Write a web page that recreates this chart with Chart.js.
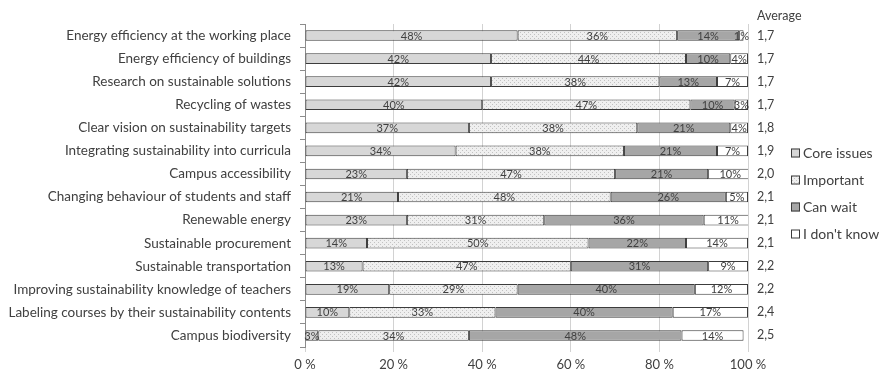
<!DOCTYPE html>
<html>
<head>
<meta charset="utf-8">
<script src="https://cdn.jsdelivr.net/npm/chart.js@4/dist/chart.umd.min.js"></script>
<style>
  html, body { margin: 0; padding: 0; background: #ffffff; }
  #wrap { width: 880px; height: 374px; position: relative; }
</style>
</head>
<body>
<div id="wrap"><canvas id="chart"></canvas></div>
<script>
// Survey topics, ordered by average priority score
const categories = [
  'Energy efficiency at the working place',
  'Energy efficiency of buildings',
  'Research on sustainable solutions',
  'Recycling of wastes',
  'Clear vision on sustainability targets',
  'Integrating sustainability into curricula',
  'Campus accessibility',
  'Changing behaviour of students and staff',
  'Renewable energy',
  'Sustainable procurement',
  'Sustainable transportation',
  'Improving sustainability knowledge of teachers',
  'Labeling courses by their sustainability contents',
  'Campus biodiversity'
];

// Share of answers per topic (%)
const coreIssues = [48, 42, 42, 40, 37, 34, 23, 21, 23, 14, 13, 19, 10, 3];
const important  = [36, 44, 38, 47, 38, 38, 47, 48, 31, 50, 47, 29, 33, 34];
const canWait    = [14, 10, 13, 10, 21, 21, 21, 26, 36, 22, 31, 40, 40, 48];
const dontKnow   = [1, 4, 7, 3, 4, 7, 10, 5, 11, 14, 9, 12, 17, 14];

// Average score per topic
const averages = ['1,7', '1,7', '1,7', '1,7', '1,8', '1,9', '2,0', '2,1', '2,1', '2,1', '2,2', '2,2', '2,4', '2,5'];

const seriesNames = ['Core issues', 'Important', 'Can wait', "I don't know"];
const xTickValues = [0, 20, 40, 60, 80, 100];

const FONT = 'Lato';
const TEXT = '#404040';
const INK = '#3c3c3c';

// Light fill with a fine dot texture for the "Important" series
function dottedFill() {
  const tile = document.createElement('canvas');
  tile.width = 4; tile.height = 4;
  const g = tile.getContext('2d');
  g.fillStyle = '#efefef';
  g.fillRect(0, 0, 4, 4);
  g.fillStyle = '#c2c2c2';
  g.fillRect(0, 0, 1, 1);
  g.fillRect(2, 2, 1, 1);
  return g.createPattern(tile, 'repeat');
}

// Percent labels centred in each bar segment
const segmentLabels = {
  id: 'segmentLabels',
  afterDatasetsDraw(chart) {
    const { ctx } = chart;
    ctx.save();
    ctx.font = '11px ' + FONT;
    ctx.fillStyle = TEXT;
    ctx.textAlign = 'center';
    ctx.textBaseline = 'middle';
    chart.data.datasets.forEach((ds, i) => {
      const meta = chart.getDatasetMeta(i);
      meta.data.forEach((bar, j) => {
        ctx.fillText(ds.data[j] + '%', (bar.x + bar.base) / 2, bar.y + 0.5);
      });
    });
    ctx.restore();
  }
};

// "Average" heading and the series key to the right of the averages
const sideKey = {
  id: 'sideKey',
  afterDraw(chart) {
    const { ctx, chartArea } = chart;
    const s = chart.scales.avg;
    ctx.save();
    ctx.fillStyle = TEXT;
    ctx.textAlign = 'left';
    ctx.textBaseline = 'middle';
    ctx.font = '12.5px ' + FONT;
    ctx.fillText('Average', s.left + 9, 16);

    const boxX = s.left + 43;
    const step = 27;
    const y0 = (chartArea.top + chartArea.bottom) / 2 + 8 - step * 1.5;
    ctx.font = '14px ' + FONT;
    chart.data.datasets.forEach((ds, i) => {
      const y = y0 + i * step;
      ctx.fillStyle = ds.backgroundColor;
      ctx.fillRect(boxX, y - 4.5, 9, 9);
      ctx.strokeStyle = INK;
      ctx.lineWidth = 1;
      ctx.strokeRect(boxX + 0.5, y - 4, 8, 8);
      ctx.fillStyle = TEXT;
      ctx.fillText(ds.label, boxX + 12, y + 0.5);
    });
    ctx.restore();
  }
};

const series = [coreIssues, important, canWait, dontKnow];
const fills = ['#d7d7d7', dottedFill(), '#a6a6a6', '#ffffff'];

new Chart(document.getElementById('chart'), {
  type: 'bar',
  data: {
    labels: categories,
    datasets: series.map((values, i) => ({
      label: seriesNames[i],
      data: values,
      backgroundColor: fills[i],
      borderColor: INK,
      borderWidth: 1,
      borderSkipped: false,
      barPercentage: 0.46,
      categoryPercentage: 1
    }))
  },
  options: {
    indexAxis: 'y',
    responsive: true,
    maintainAspectRatio: false,
    animation: false,
    layout: { padding: { top: 24, left: 0, right: 0, bottom: 0 } },
    scales: {
      x: {
        stacked: true,
        min: 0,
        max: 100,
        afterBuildTicks(scale) { scale.ticks = xTickValues.map(v => ({ value: v })); },
        afterFit(scale) { scale.height = 27; },
        grid: { color: '#d2d2d2', lineWidth: 1, tickLength: 5, drawTicks: true },
        border: { display: false },
        ticks: {
          padding: 5,
          color: TEXT,
          font: { family: FONT, size: 13 },
          callback: v => v + ' %'
        }
      },
      y: {
        stacked: true,
        afterFit(scale) { scale.width = 305; },
        grid: { offset: true, drawOnChartArea: false, tickLength: 5, color: '#8c8c8c' },
        border: { display: true, color: '#8c8c8c', width: 1 },
        ticks: {
          padding: 9,
          color: TEXT,
          font: { family: FONT, size: 13.5 },
          autoSkip: false
        }
      },
      avg: {
        type: 'category',
        labels: averages,
        position: 'right',
        offset: true,
        afterFit(scale) { scale.width = 132; },
        grid: { display: false, drawTicks: false },
        border: { display: false },
        ticks: {
          padding: 9,
          color: TEXT,
          font: { family: FONT, size: 12.5 },
          autoSkip: false
        }
      }
    },
    plugins: {
      legend: { display: false },
      tooltip: { enabled: false }
    }
  },
  plugins: [segmentLabels, sideKey]
});
</script>
</body>
</html>
